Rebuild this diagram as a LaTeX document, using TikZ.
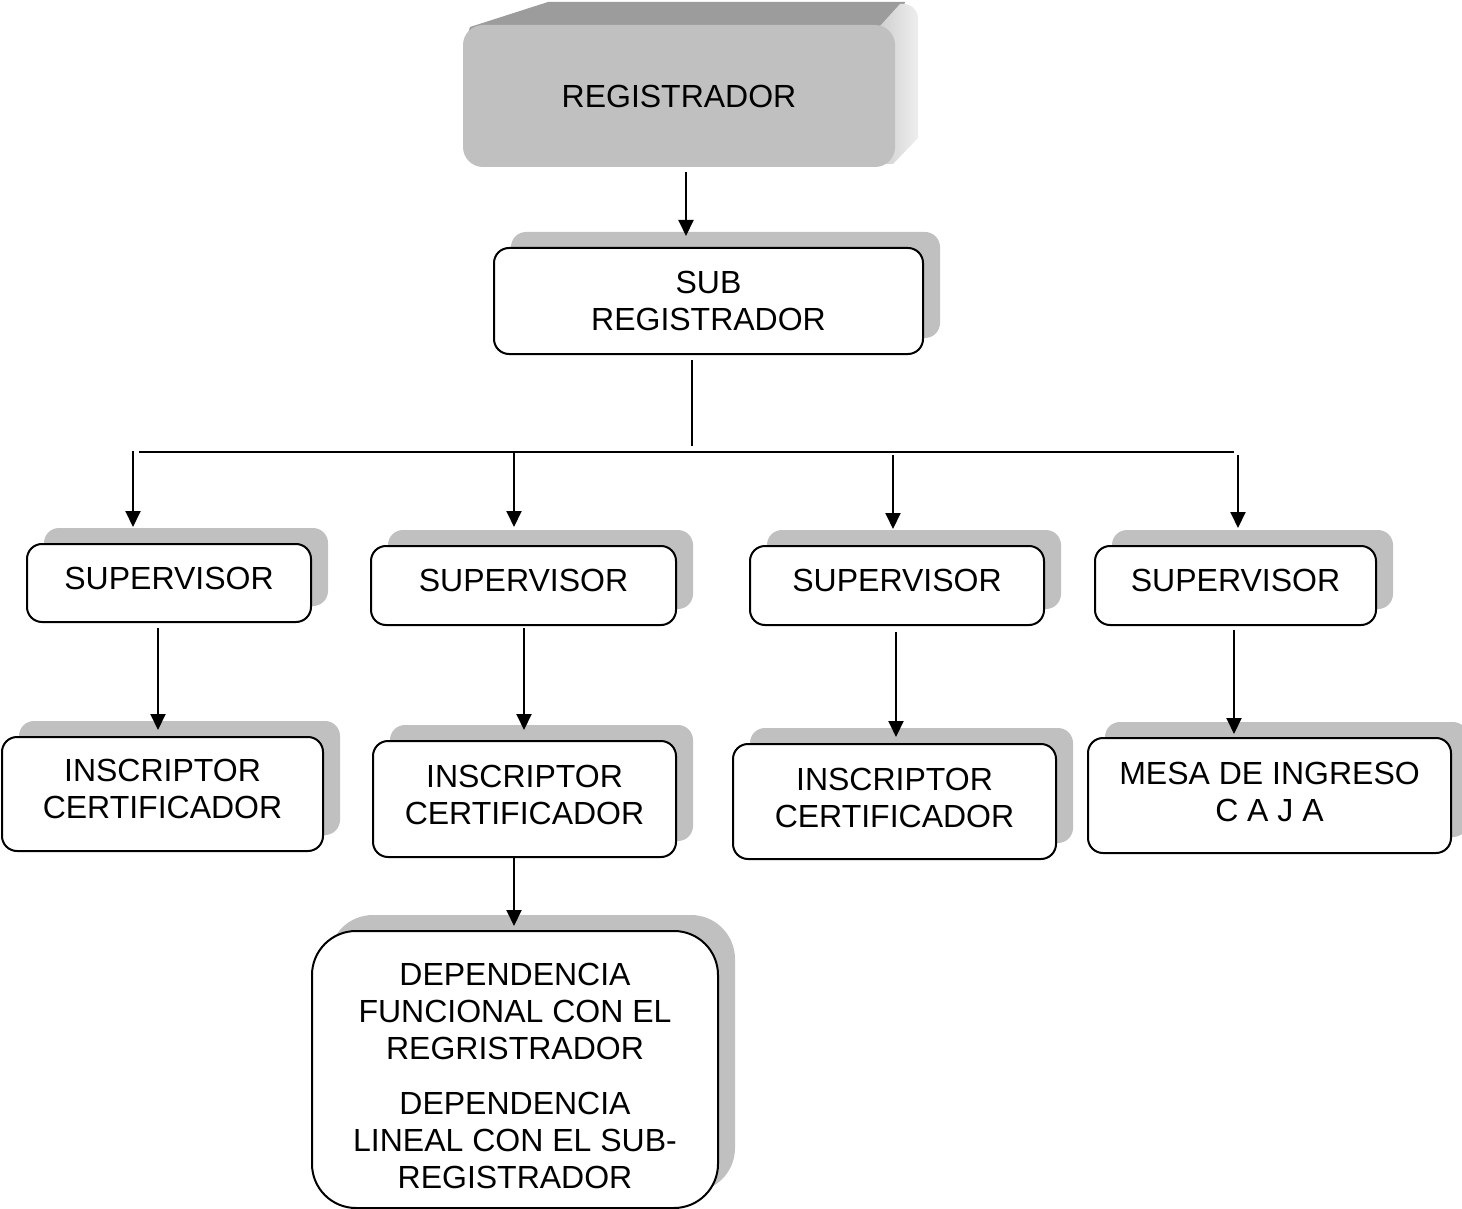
\documentclass[tikz,border=0pt]{standalone}
\usepackage{fontspec}
\setmainfont{Liberation Sans}
\usetikzlibrary{shadows,arrows.meta,calc}
\definecolor{shd}{HTML}{C0C0C0}
\definecolor{topc}{HTML}{9C9C9C}
\definecolor{sidea}{HTML}{D0D0D0}
\definecolor{sideb}{HTML}{EEEEEE}
\begin{document}
\begin{tikzpicture}[x=0.5pt,y=-0.5pt,
  txt/.style={align=center, font=\fontsize{16}{18.5}\selectfont, inner sep=0pt},
  box/.style={txt, draw=black, line width=1pt, rounded corners=7.5pt, fill=white,
    general shadow={fill=shd, shadow xshift=8.5pt, shadow yshift=8pt}},
  arr/.style={line width=1pt, -{Triangle[width=7.5pt,length=8pt]}},
  ln/.style={line width=1pt}]
\useasboundingbox (0,0) rectangle (1462,1209);

% 3D top box
\fill[topc] (466,40) -- (470,27) -- (548,2) -- (905,2) -- (893,40) -- cycle;
\shade[left color=sidea, right color=sideb] (880,40) -- (880,26) -- (900,4) to[out=10,in=90] (918,18) -- (918,138) -- (893,164) -- (880,164) -- cycle;
\node[txt, fill=shd, rounded corners=10pt, minimum width=216pt, minimum height=71pt, text depth=-1pt] (reg) at (679,96) {REGISTRADOR};

\node[box, minimum width=214.5pt, minimum height=53pt] (sub) at (708.5,301) {SUB\\REGISTRADOR};

\node[box, minimum width=142pt, minimum height=39pt, text depth=5pt] (sup1) at (169,583) {SUPERVISOR};
\node[box, minimum width=152.5pt, minimum height=39.5pt, text depth=5pt] (sup2) at (523.5,585.5) {SUPERVISOR};
\node[box, minimum width=147pt, minimum height=39.5pt, text depth=5pt] (sup3) at (897,585.5) {SUPERVISOR};
\node[box, minimum width=140.5pt, minimum height=39.5pt, text depth=5pt] (sup4) at (1235.5,585.5) {SUPERVISOR};

\node[box, minimum width=160.5pt, minimum height=57pt, text depth=5pt] (ins1) at (162.5,794) {INSCRIPTOR\\CERTIFICADOR};
\node[box, minimum width=151.5pt, minimum height=58pt, text depth=4pt] (ins2) at (524.5,799) {INSCRIPTOR\\CERTIFICADOR};
\node[box, minimum width=161.5pt, minimum height=57.5pt, text depth=4pt] (ins3) at (894.5,801.5) {INSCRIPTOR\\CERTIFICADOR};
\node[box, minimum width=181.5pt, minimum height=57.5pt, text depth=4pt] (mesa) at (1269.5,795.5) {MESA DE INGRESO\\C A J A};

\node[box, rounded corners=22pt, minimum width=203pt, minimum height=138.5pt] (dep) at (515,1069.5)
  {\rule{0pt}{17.7pt}DEPENDENCIA\\FUNCIONAL CON EL\\REGRISTRADOR\\[9pt]DEPENDENCIA\\LINEAL CON EL SUB-\\REGISTRADOR};

% connectors
\draw[arr] ($(reg.south)+(7,5)$) -- ($(reg.south |- sub.north)+(7,-11)$);

\coordinate (v1) at (692,360);
\coordinate (v2) at (692,446);
\coordinate (bl) at (139,452);
\coordinate (br) at (1234,452);
\draw[ln] (v1) -- (v2);
\draw[ln] (bl) -- (br);

\coordinate (a1) at (133,451);
\coordinate (a2) at (514,452);
\coordinate (a3) at (893,455);
\coordinate (a4) at (1238,455);
\draw[arr] (a1) -- ($(a1 |- sup1.north)+(0,-16)$);
\draw[arr] (a2) -- ($(a2 |- sup2.north)+(0,-18)$);
\draw[arr] (a3) -- ($(a3 |- sup3.north)+(0,-16)$);
\draw[arr] (a4) -- ($(a4 |- sup4.north)+(0,-17)$);

\draw[arr] ($(sup1.south)+(-11,5)$) -- ($(sup1.south |- ins1.north)+(-11,-6)$);
\draw[arr] ($(sup2.south)+(0.5,2)$) -- ($(sup2.south |- ins2.north)+(0.5,-10)$);
\draw[arr] ($(sup3.south)+(-1,6)$) -- ($(sup3.south |- ins3.north)+(-1,-6)$);
\draw[arr] ($(sup4.south)+(-1.5,4)$) -- ($(sup4.south |- mesa.north)+(-1.5,-3)$);

\draw[arr] ($(ins2.south)+(-10.5,0)$) -- ($(ins2.south |- dep.north)+(-10.5,-4)$);
\end{tikzpicture}
\end{document}
